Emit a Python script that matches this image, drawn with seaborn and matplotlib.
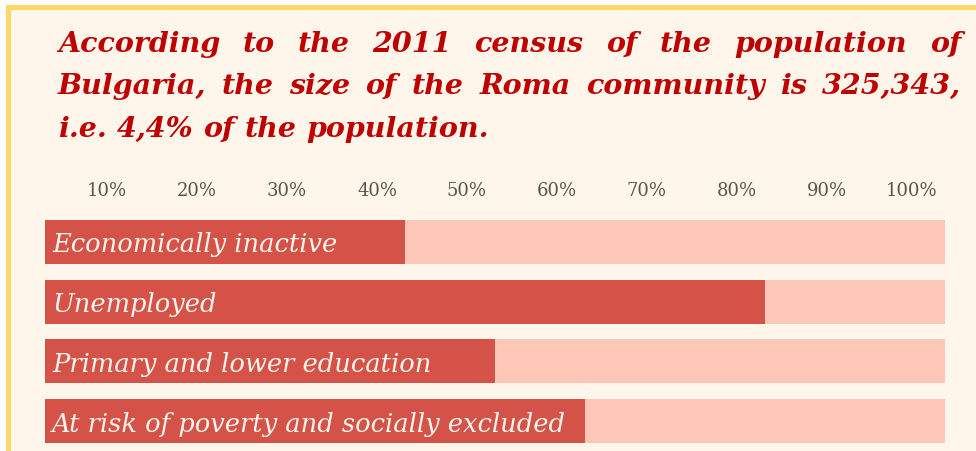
import matplotlib
matplotlib.use("Agg")
import matplotlib.pyplot as plt
import matplotlib.transforms as mtransforms
from matplotlib.patches import Rectangle
import seaborn as sns
import pandas as pd

# ---- data -------------------------------------------------------------
categories = [
    "Economically inactive",
    "Unemployed",
    "Primary and lower education",
    "At risk of poverty and socially excluded",
]
shares = [40, 80, 50, 60]          # percent of the Roma community
ticks = [10, 20, 30, 40, 50, 60, 70, 80, 90, 100]
tick_labels = [f"{t}%" for t in ticks]
title_lines = [
    "According to the 2011 census of the population of",
    "Bulgaria, the size of the Roma community is 325,343,",
    "i.e. 4,4% of the population.",
]

# ---- style ------------------------------------------------------------
W, H, DPI = 976, 452, 100
PANEL = "#FEF6EB"
BORDER = "#FFD766"
DARK = "#D55248"
LIGHT = "#FDC7B8"
TITLE = "#BF0000"
TICK = "#5A554B"
LABEL = "#FFF5EA"

sns.set_theme(style="white")
plt.rcParams["font.family"] = ["DejaVu Serif"]

fig = plt.figure(figsize=(W / DPI, H / DPI), dpi=DPI, facecolor="white")

# framed panel (runs off the right and bottom edges)
fig.patches.append(Rectangle((7.5 / W, -0.1), 1.2, (H - 8) / H + 0.1,
                             transform=fig.transFigure, facecolor=PANEL,
                             edgecolor=BORDER, linewidth=3.6, zorder=-5))

renderer = fig.canvas.get_renderer()


def text_width(s, size, **kw):
    t = fig.text(0, 0, s, fontsize=size, **kw)
    w = t.get_window_extent(renderer).width
    t.remove()
    return w


# ---- title: bold italic, justified lines ------------------------------
title_kw = dict(fontweight="bold", fontstyle="italic", color=TITLE)
title_size = 20.5
x_left, x_right = 58, 961
baselines = [52, 94, 137]


def put_line(line, baseline, justify):
    words = line.split(" ")
    texts = [fig.text(0, (H - baseline) / H, w, fontsize=title_size,
                      va="baseline", ha="left", **title_kw) for w in words]
    widths = [t.get_window_extent(renderer).width for t in texts]
    if justify:
        gap = (x_right - x_left - sum(widths)) / (len(words) - 1)
    else:
        gap = (text_width("a a", title_size, **title_kw)
               - 2 * text_width("a", title_size, **title_kw))
    x = x_left
    for t, w in zip(texts, widths):
        t.set_x(x / W)
        x += w + gap


for i, (line, b) in enumerate(zip(title_lines, baselines)):
    put_line(line, b, justify=i < len(title_lines) - 1)

# ---- bars -------------------------------------------------------------
ax = fig.add_axes([45 / W, 0, 900 / W, 239 / H])
ax.set_facecolor("none")

df = pd.DataFrame({"category": categories, "share": shares})
df["total"] = 100

sns.barplot(data=df, x="total", y="category", color=LIGHT, saturation=1,
            width=0.737, linewidth=0, ax=ax)
sns.barplot(data=df, x="share", y="category", color=DARK, saturation=1,
            width=0.737, linewidth=0, ax=ax)

ax.set_xlim(0, 100)
ax.set_ylim(3.5, -0.5)
sns.despine(ax=ax, left=True, bottom=True, top=True, right=True)
ax.set_xlabel("")
ax.set_ylabel("")
ax.tick_params(axis="y", left=False, labelleft=False)

# percentage scale along the top, labels sitting just left of each mark
ax.xaxis.tick_top()
ax.set_xticks(ticks)
ax.set_xticklabels(tick_labels, fontsize=13, color=TICK)
ax.tick_params(axis="x", length=0, pad=9)
shift = mtransforms.ScaledTranslation(-8 / DPI, 0, fig.dpi_scale_trans)
for lbl in ax.get_xticklabels():
    lbl.set_horizontalalignment("right")
    lbl.set_transform(lbl.get_transform() + shift)

# category names inside the bars
label_size = 18.5
for i, cat in enumerate(categories):
    ax.text(0.8, i + 0.16, cat, fontsize=label_size, fontstyle="italic",
            color=LABEL, va="baseline", ha="left")

fig.savefig("out.png", dpi=DPI, facecolor=fig.get_facecolor())
